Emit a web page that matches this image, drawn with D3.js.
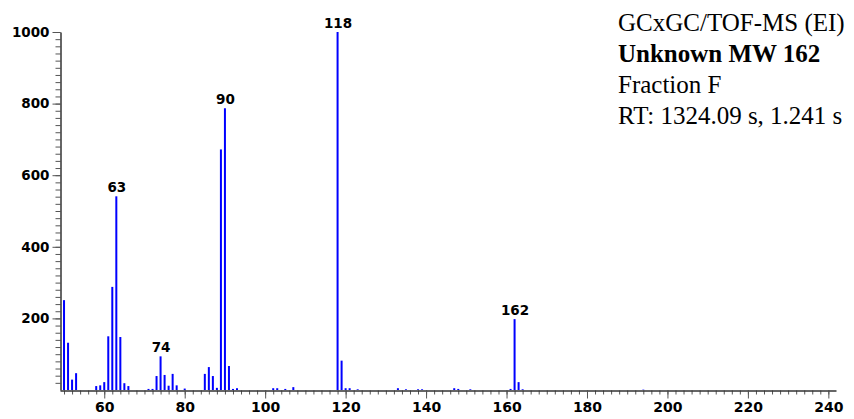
<!DOCTYPE html>
<html>
<head>
<meta charset="utf-8">
<script src="https://cdn.jsdelivr.net/npm/d3@7"></script>
<style>
  html, body { margin: 0; padding: 0; background: #fff; }
  svg { display: block; }
</style>
</head>
<body>
<svg id="chart" width="854" height="419"></svg>
<script>
// Mass spectrum: m/z values and relative intensities (base peak = 1000)
const mzValues = [50, 51, 52, 53, 58, 59, 60, 61, 62, 63, 64, 65, 66,
  71, 72, 73, 74, 75, 76, 77, 78, 80, 85, 86, 87, 88, 89, 90, 91, 92, 93,
  102, 103, 105, 107, 118, 119, 120, 121, 123, 133, 135, 138, 139,
  147, 148, 151, 161, 162, 163, 164, 194];
const intensities = [251, 132, 29, 47, 11, 13, 22, 150, 288, 541, 148, 19, 11,
  3, 3, 39, 94, 42, 12, 45, 13, 4, 45, 64, 39, 6, 672, 787, 67, 3, 5,
  5, 5, 3, 8, 1000, 82, 5, 5, 2, 5, 2, 2, 2,
  5, 3, 2, 3, 198, 22, 2, 1];
const labelledPeaks = [63, 74, 90, 118, 162];
const xTickValues = [60, 80, 100, 120, 140, 160, 180, 200, 220, 240];
const yTickValues = [200, 400, 600, 800, 1000];
const titleLines = [
  { text: "GCxGC/TOF-MS (EI)", bold: false },
  { text: "Unknown MW 162", bold: true },
  { text: "Fraction F", bold: false },
  { text: "RT: 1324.09 s, 1.241 s", bold: false }
];

const peaks = mzValues.map((mz, i) => ({ mz, v: intensities[i] }));

const svg = d3.select("#chart");
const axisFont = "'DejaVu Sans', Verdana, sans-serif";

const x = d3.scaleLinear().domain([49, 241.9]).range([60, 836]);
const y = d3.scaleLinear().domain([0, 1000]).range([390, 32]);

// Bars (stick spectrum)
svg.append("g")
  .selectAll("rect")
  .data(peaks)
  .join("rect")
  .attr("x", d => x(d.mz) - 1)
  .attr("width", 2)
  .attr("y", d => y(d.v))
  .attr("height", d => y(0) - y(d.v))
  .attr("fill", "#0000ff");

// X axis: minor ticks every 2, labelled major ticks every 20
const xAxisG = svg.append("g").attr("transform", `translate(0,${y(0) + 0.5})`);
xAxisG.append("g")
  .call(d3.axisBottom(x).tickValues(d3.range(50, 241, 2)).tickSize(4).tickFormat(""))
  .call(g => g.select(".domain").remove());
xAxisG.append("g")
  .call(d3.axisBottom(x).tickValues(xTickValues).tickSize(8).tickSizeOuter(0)
    .tickPadding(4).tickFormat(d3.format("d")))
  .call(g => g.select(".domain").attr("stroke-width", 1.5));
xAxisG.selectAll("line").attr("stroke", "#555");
xAxisG.selectAll(".domain").attr("stroke", "#333");
xAxisG.selectAll("text")
  .attr("font-family", axisFont)
  .attr("font-weight", "bold")
  .attr("font-size", 14)
  .attr("fill", "#000");

// Y axis: minor ticks every 20, labelled major ticks every 200
const yAxisG = svg.append("g").attr("transform", "translate(60.5,0)");
yAxisG.append("g")
  .call(d3.axisLeft(y).tickValues(d3.range(20, 1001, 20)).tickSize(5).tickFormat(""))
  .call(g => g.select(".domain").remove());
yAxisG.append("g")
  .call(d3.axisLeft(y).tickValues(yTickValues).tickSize(8).tickSizeOuter(0)
    .tickPadding(3).tickFormat(d3.format("d")))
  .call(g => g.select(".domain").attr("stroke-width", 1.5));
yAxisG.selectAll("line").attr("stroke", "#555");
yAxisG.selectAll(".domain").attr("stroke", "#333");
yAxisG.selectAll("text")
  .attr("font-family", axisFont)
  .attr("font-weight", "bold")
  .attr("font-size", 13.5)
  .attr("fill", "#000");

// Peak labels
svg.append("g")
  .selectAll("text")
  .data(peaks.filter(d => labelledPeaks.includes(d.mz)))
  .join("text")
  .attr("x", d => x(d.mz) + 0.5)
  .attr("y", d => y(d.v) - 4.5)
  .attr("text-anchor", "middle")
  .attr("font-family", axisFont)
  .attr("font-weight", "bold")
  .attr("font-size", 13.5)
  .attr("fill", "#000")
  .text(d => d.mz);

// Title block
svg.append("g")
  .selectAll("text")
  .data(titleLines)
  .join("text")
  .attr("x", 618)
  .attr("y", (d, i) => 31 + i * 31)
  .attr("font-family", "'Liberation Serif', 'Times New Roman', serif")
  .attr("font-size", 25)
  .attr("font-weight", d => d.bold ? "bold" : "normal")
  .attr("fill", "#000")
  .text(d => d.text);
</script>
</body>
</html>
